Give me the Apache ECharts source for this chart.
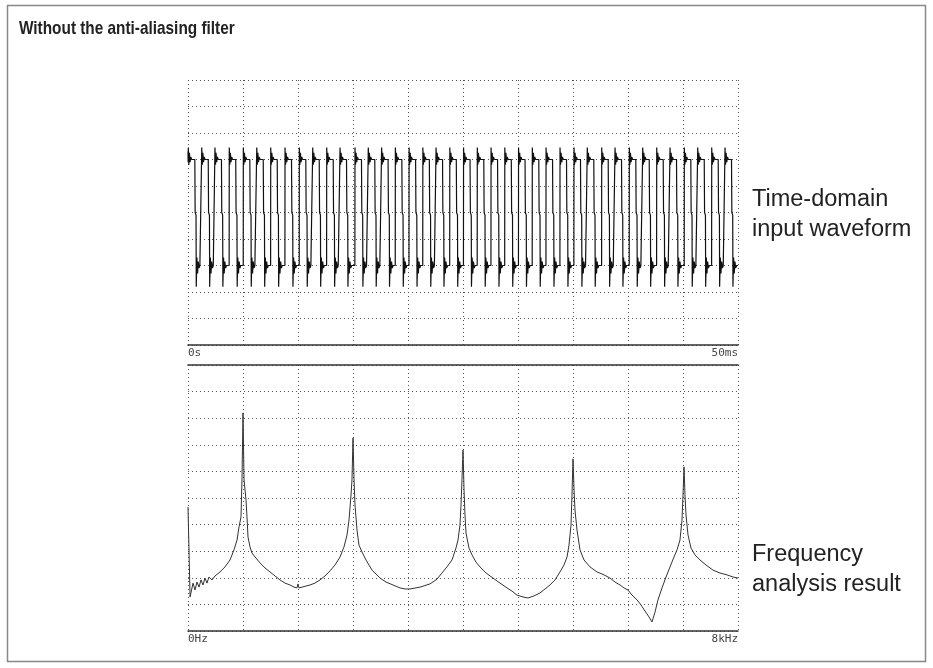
<!DOCTYPE html>
<html>
<head>
<meta charset="utf-8">
<script src="https://cdn.jsdelivr.net/npm/echarts@6/dist/echarts.min.js"></script>
<style>
html,body{margin:0;padding:0;background:#fff;}
#c{width:933px;height:668px;}
</style>
</head>
<body>
<div id="c"></div>
<script>
// ---- Data ----
const titleText = 'Without the anti-aliasing filter';
const timeTickLabels = ['0s', '50ms'];
const freqTickLabels = ['0Hz', '8kHz'];
const timeNote = 'Time-domain\ninput waveform';
const freqNote = 'Frequency\nanalysis result';

// rising-edge times (ms) of each cycle of the input waveform
const riseMs = [0.03, 1.25, 2.45, 3.75, 5.03, 6.25, 7.52, 8.82, 10.12, 11.34,
  12.61, 13.82, 15.18, 16.39, 17.60, 18.85, 20.10, 21.35, 22.55, 23.80,
  25.05, 26.30, 27.55, 28.80, 30.05, 31.30, 32.55, 33.82, 35.09, 36.30,
  37.61, 38.82, 40.12, 41.34, 42.61, 43.82, 45.12, 46.34, 47.61, 48.82];
// falling-edge times (ms)
const fallMs = [0.63, 1.85, 3.05, 4.35, 5.63, 6.85, 8.12, 9.42, 10.72, 11.94,
  13.21, 14.42, 15.78, 16.99, 18.20, 19.45, 20.70, 21.95, 23.15, 24.40,
  25.65, 26.90, 28.15, 29.40, 30.65, 31.90, 33.15, 34.42, 35.69, 36.90,
  38.21, 39.42, 40.72, 41.94, 43.21, 44.42, 45.72, 46.94, 48.21, 49.42];
// levels in divisions (0..10)
const highLevel = 7.0, lowLevel = 3.0;
// ringing after a rise / after a fall: [offset ms, level]
const riseRing = [[0, 7.45], [0.05, 6.8], [0.1, 7.25], [0.16, 6.9], [0.22, 7.1], [0.3, 7.0]];
const fallRing = [[0, 7.0], [0.02, 5.0], [0.1, 4.9], [0.12, 2.2], [0.18, 3.3], [0.24, 2.7], [0.3, 3.15], [0.37, 2.9], [0.45, 3.0]];

// spectrum: [kHz, level in divisions]
const spectrum = [
  [0.0, 4.66], [0.03, 1.28], [0.073, 1.80], [0.102, 1.54], [0.131, 1.84], [0.160, 1.65],
  [0.189, 1.92], [0.218, 1.73], [0.247, 1.99], [0.276, 1.80], [0.305, 2.03], [0.349, 1.92],
  [0.393, 2.07], [0.465, 2.22], [0.538, 2.41], [0.611, 2.67], [0.669, 3.05], [0.713, 3.42],
  [0.742, 3.91], [0.771, 4.29], [0.785, 5.68], [0.800, 8.20], [0.815, 5.68], [0.844, 4.92],
  [0.858, 4.29], [0.873, 3.53], [0.902, 3.16], [0.931, 2.93], [0.989, 2.74], [1.047, 2.56],
  [1.120, 2.37], [1.193, 2.22], [1.265, 2.07], [1.338, 1.92], [1.411, 1.80], [1.484, 1.73],
  [1.542, 1.65], [1.585, 1.62], [1.600, 1.77], [1.614, 1.62], [1.658, 1.65], [1.716, 1.69],
  [1.775, 1.73], [1.847, 1.80], [1.920, 1.92], [1.993, 2.07], [2.065, 2.26], [2.138, 2.48],
  [2.211, 2.78], [2.269, 3.16], [2.313, 3.61], [2.342, 4.17], [2.371, 5.11], [2.385, 5.68],
  [2.400, 7.26], [2.415, 5.68], [2.429, 4.74], [2.458, 3.80], [2.487, 3.23], [2.531, 2.97],
  [2.589, 2.67], [2.676, 2.29], [2.793, 1.99], [2.880, 1.84], [2.982, 1.73], [3.084, 1.62],
  [3.156, 1.58], [3.185, 1.65], [3.229, 1.58], [3.375, 1.65], [3.520, 1.77], [3.622, 1.95],
  [3.694, 2.18], [3.767, 2.41], [3.840, 2.67], [3.898, 3.12], [3.927, 3.42], [3.956, 3.98],
  [3.971, 4.74], [3.985, 5.68], [4.000, 6.80], [4.015, 5.30], [4.029, 4.36], [4.044, 3.68],
  [4.087, 3.12], [4.131, 2.86], [4.189, 2.59], [4.247, 2.41], [4.335, 2.18], [4.436, 1.99],
  [4.538, 1.80], [4.640, 1.62], [4.713, 1.50], [4.785, 1.35], [4.873, 1.28], [4.945, 1.24],
  [5.033, 1.32], [5.120, 1.43], [5.193, 1.58], [5.265, 1.73], [5.338, 1.92], [5.411, 2.22],
  [5.469, 2.48], [5.513, 2.78], [5.542, 3.23], [5.571, 3.98], [5.585, 5.11], [5.600, 6.47],
  [5.615, 5.30], [5.629, 4.55], [5.658, 3.80], [5.702, 3.05], [5.760, 2.67], [5.847, 2.41],
  [5.949, 2.22], [6.051, 2.11], [6.138, 1.99], [6.211, 1.84], [6.284, 1.73], [6.342, 1.62],
  [6.400, 1.54], [6.458, 1.35], [6.531, 1.17], [6.589, 0.98], [6.647, 0.75], [6.705, 0.53],
  [6.749, 0.34], [6.793, 0.71], [6.836, 1.17], [6.895, 1.62], [6.953, 2.03], [7.011, 2.41],
  [7.069, 2.78], [7.113, 3.05], [7.156, 3.42], [7.185, 4.17], [7.200, 5.11], [7.215, 6.17],
  [7.229, 5.11], [7.244, 4.36], [7.273, 3.61], [7.316, 3.12], [7.375, 2.86], [7.447, 2.67],
  [7.535, 2.48], [7.636, 2.29], [7.738, 2.18], [7.840, 2.11], [7.927, 2.03], [8.000, 1.99]
];

// ---- Build waveform table from the read edges ----
const wave = [[0, 7.3], [0.01, 6.9]];
for (let k = 0; k < riseMs.length; k++) {
  const r = riseMs[k], f = fallMs[k];
  if (k > 0) wave.push([r - 0.01, lowLevel]);
  riseRing.forEach(p => wave.push([r + p[0], p[1]]));
  wave.push([f - 0.01, highLevel]);
  fallRing.forEach(p => wave.push([f + p[0], p[1]]));
}
wave.push([50, lowLevel]);

const dotted = { type: [1, 3], color: '#555', width: 1 };
const solid = { color: '#333', width: 1.5 };
const labelFont = { fontSize: 11, fontFamily: 'DejaVu Sans Mono', color: '#444' };

const chart = echarts.init(document.getElementById('c'), null, { renderer: 'canvas' });
chart.setOption({
  animation: false,
  backgroundColor: '#fff',
  grid: [
    { left: 188, top: 80, width: 550, height: 265 },
    { left: 188, top: 365, width: 550, height: 266 }
  ],
  xAxis: [
    { gridIndex: 0, type: 'value', min: 0, max: 50, interval: 5,
      axisLine: { show: true, lineStyle: solid }, axisTick: { show: false },
      axisLabel: Object.assign({ margin: 3, alignMinLabel: 'left', alignMaxLabel: 'right',
        formatter: v => v === 0 ? timeTickLabels[0] : (v === 50 ? timeTickLabels[1] : '') }, labelFont),
      splitLine: { show: true, lineStyle: dotted } },
    { gridIndex: 1, type: 'value', min: 0, max: 8, interval: 0.8,
      axisLine: { show: true, lineStyle: solid }, axisTick: { show: false },
      axisLabel: Object.assign({ margin: 3, alignMinLabel: 'left', alignMaxLabel: 'right',
        formatter: v => v === 0 ? freqTickLabels[0] : (Math.abs(v - 8) < 1e-9 ? freqTickLabels[1] : '') }, labelFont),
      splitLine: { show: true, lineStyle: dotted } },
    { gridIndex: 1, type: 'value', min: 0, max: 8, position: 'top',
      axisLine: { show: true, lineStyle: solid }, axisTick: { show: false },
      axisLabel: { show: false }, splitLine: { show: false } }
  ],
  yAxis: [
    { gridIndex: 0, type: 'value', min: 0, max: 10, interval: 1,
      axisLine: { show: false }, axisTick: { show: false }, axisLabel: { show: false },
      splitLine: { show: true, lineStyle: dotted } },
    { gridIndex: 1, type: 'value', min: 0, max: 10, interval: 1,
      axisLine: { show: false }, axisTick: { show: false }, axisLabel: { show: false },
      splitLine: { show: true, lineStyle: dotted } }
  ],
  series: [
    { type: 'line', xAxisIndex: 0, yAxisIndex: 0, data: wave, showSymbol: false,
      lineStyle: { color: '#111', width: 1.2 }, silent: true },
    { type: 'line', xAxisIndex: 1, yAxisIndex: 1, data: spectrum, showSymbol: false,
      lineStyle: { color: '#333', width: 1 }, silent: true }
  ],
  graphic: [
    { type: 'rect', shape: { x: 7.5, y: 5.5, width: 918, height: 656 },
      style: { fill: 'none', stroke: '#888', lineWidth: 1.5 }, silent: true },
    { type: 'text', x: 19, y: 19, scaleX: 0.83,
      style: { text: titleText, fontSize: 18.5, fontWeight: 'bold', fontFamily: 'Liberation Sans', fill: '#222' } },
    { type: 'text', left: 752, top: 185,
      style: { text: timeNote, fontSize: 23.5, lineHeight: 30, fontFamily: 'Liberation Sans', fill: '#222' } },
    { type: 'text', left: 752, top: 540,
      style: { text: freqNote, fontSize: 23.5, lineHeight: 30, fontFamily: 'Liberation Sans', fill: '#222' } }
  ]
});
</script>
</body>
</html>
